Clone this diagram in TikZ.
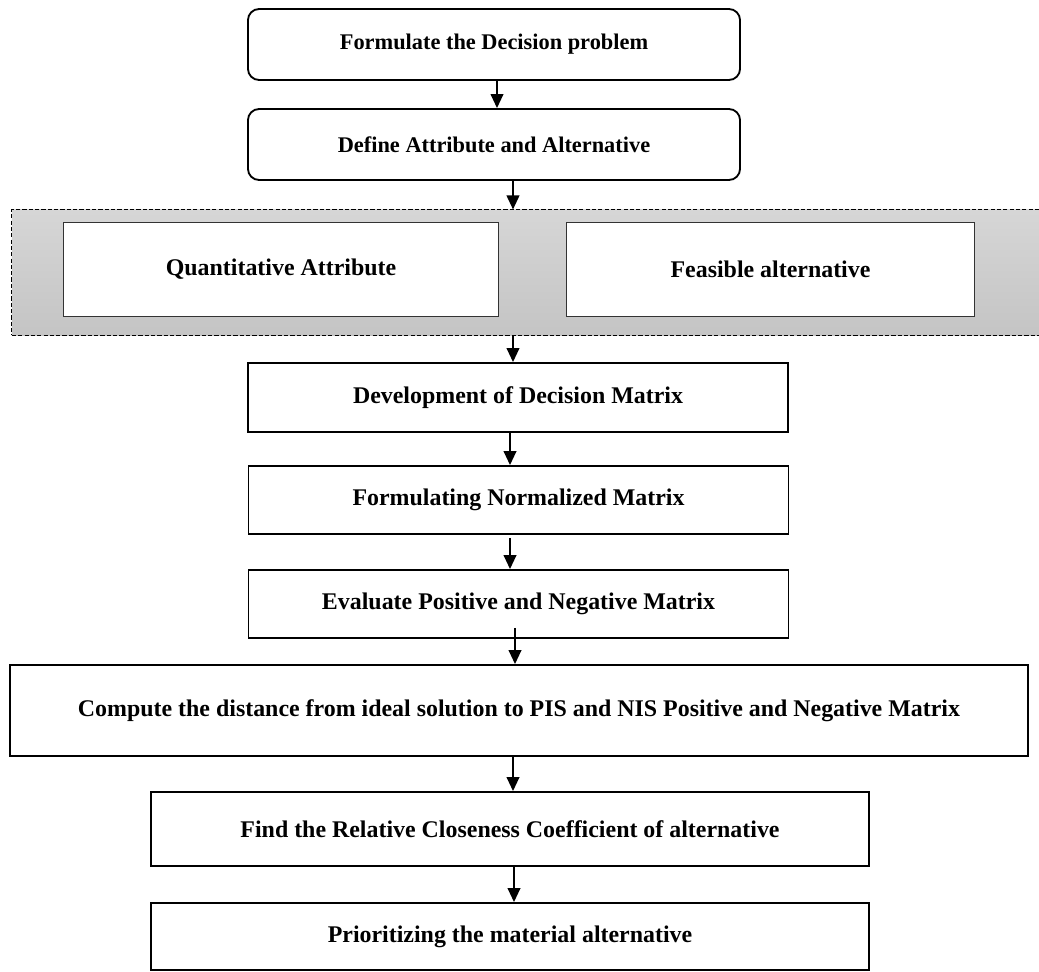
\documentclass[tikz,border=0pt]{standalone}
\usepackage{fontspec}
\setmainfont{Liberation Serif}
\usepackage{tikz}
\usetikzlibrary{calc, arrows.meta, positioning}
\usepackage{xcolor}
\definecolor{panelgray}{rgb}{0.84, 0.84, 0.84}
\definecolor{paneldark}{rgb}{0.77, 0.77, 0.77}

\begin{document}
\begin{tikzpicture}[x=0.025cm, y=-0.025cm, >={Triangle[length=10pt, width=9pt]}]
    \useasboundingbox (0,0) rectangle (1039,972);
    \tikzstyle{txt}=[font=\fontsize{17}{20}\selectfont\bfseries, align=center, inner sep=0pt]
    \tikzstyle{stepround}=[txt, font=\fontsize{15.9}{18}\selectfont\bfseries, draw, line width=1.3pt, rounded corners=0.28cm]
    \tikzstyle{stepbox}=[txt, draw, line width=1.3pt]
    \tikzstyle{subbox}=[txt, draw=black!80, fill=white, line width=0.7pt]
    \tikzstyle{flow}=[->, line width=1.4pt]

    % Problem statement (rounded boxes)
    \node (formulate)[stepround, minimum width=12.3cm, minimum height=1.775cm] at (494,44.5) {Formulate the Decision problem};
    \node (define)[stepround, minimum width=12.3cm, minimum height=1.775cm] at (494,144.5) {Define Attribute and Alternative};

    % Grey dashed panel with the two inputs
    \node (group)[draw, dashed, dash pattern=on 3pt off 1.5pt, line width=0.7pt,
        top color=panelgray, bottom color=paneldark, minimum width=25.825cm, minimum height=3.125cm] at (528.5,272.5) {};
    \node (quant)[subbox, minimum width=10.85cm, minimum height=2.325cm] at (281,269.5) {Quantitative Attribute};
    \node (feasible)[subbox, minimum width=10.175cm, minimum height=2.325cm] at (770.5,269.5) {Feasible alternative};

    % TOPSIS steps
    \node (develop)[stepbox, minimum width=13.5cm, minimum height=1.725cm] at (518,397.5) {Development of Decision Matrix};
    \node (normal)[stepbox, minimum width=13.5cm, minimum height=1.7cm] at (518.5,500) {Formulating Normalized Matrix};
    \node (evaluate)[stepbox, minimum width=13.5cm, minimum height=1.7cm] at (518.5,604) {Evaluate Positive and Negative Matrix};
    \node (distance)[stepbox, minimum width=25.45cm, minimum height=2.275cm] at (519,710.5) {Compute the distance from ideal solution to PIS and NIS Positive and Negative Matrix};
    \node (closeness)[stepbox, minimum width=17.95cm, minimum height=1.85cm] at (510,829) {Find the Relative Closeness Coefficient of alternative};
    \node (priority)[stepbox, minimum width=17.95cm, minimum height=1.675cm] at (510,936.5) {Prioritizing the material alternative};

    % Arrows between the steps
    \draw[flow] ($(formulate.south)+(3,0)$) -- ($(define.north)+(3,0)$);
    \draw[flow] ($(define.south)+(19,0)$) -- ($(group.north)+(-15.5,0)$);
    \draw[flow] ($(group.south)+(-15.5,0)$) -- ($(develop.north)+(-5,0)$);
    \draw[flow] ($(develop.south)+(-8,0)$) -- ($(normal.north)+(-8.5,0)$);
    \draw[flow] ($(normal.south)+(-8.5,3)$) -- ($(evaluate.north)+(-8.5,0)$);
    \draw[flow] ($(evaluate.south)+(-3.5,-11)$) -- ($(distance.north)+(-4,0)$);
    \draw[flow] ($(distance.south)+(-6,0)$) -- ($(closeness.north)+(3,0)$);
    \draw[flow] ($(closeness.south)+(4,0)$) -- ($(priority.north)+(4,0)$);
\end{tikzpicture}
\end{document}
